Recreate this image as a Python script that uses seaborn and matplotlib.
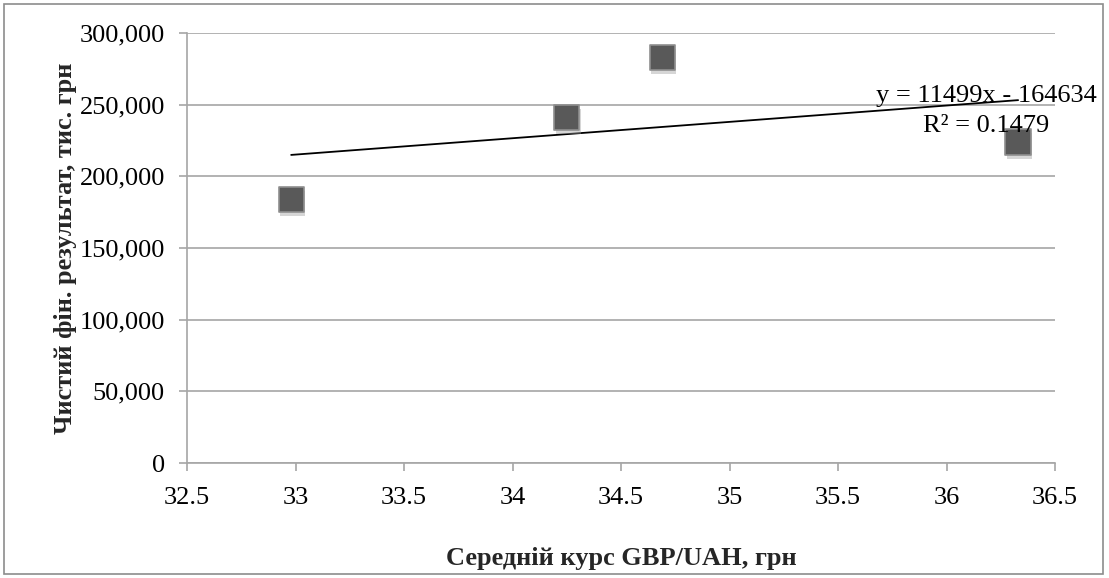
import numpy as np
import pandas as pd
import matplotlib
matplotlib.use("Agg")
import matplotlib.pyplot as plt
import matplotlib.patheffects as pe
from matplotlib.patches import Rectangle
from matplotlib.ticker import FuncFormatter, MultipleLocator
import seaborn as sns

# Data
gbp_rate = [32.98, 34.25, 34.69, 36.33]
net_result = [184000, 241000, 283000, 224000]
eq_text = "y = 11499x - 164634"
r2_text = "R² = 0.1479"
x_label = "Середній курс GBP/UAH, грн"
y_label = "Чистий фін. результат, тис. грн"

df = pd.DataFrame({"x": gbp_rate, "y": net_result})

sns.set_theme(style="white")
plt.rcParams["font.family"] = ["Liberation Serif", "DejaVu Serif"]

W, H = 1109, 578
fig = plt.figure(figsize=(W / 100, H / 100), dpi=100)
ax = fig.add_axes([187 / W, 1 - 463 / H, (1055 - 187) / W, (463 - 33) / H])

grid_c = "#a6a6a6"
ax.set_xlim(32.5, 36.5)
ax.set_ylim(0, 300000)
ax.xaxis.set_major_locator(MultipleLocator(0.5))
ax.yaxis.set_major_locator(MultipleLocator(50000))
ax.yaxis.set_major_formatter(FuncFormatter(lambda v, p: f"{v:,.0f}"))
ax.xaxis.set_major_formatter(FuncFormatter(lambda v, p: f"{v:g}"))
ax.grid(axis="y", color=grid_c, linewidth=1.2)
ax.grid(axis="x", visible=False)
ax.set_axisbelow(True)
for s in ["top", "right"]:
    ax.spines[s].set_visible(False)
for s in ["left", "bottom"]:
    ax.spines[s].set_color(grid_c)
    ax.spines[s].set_linewidth(1.2)
ax.tick_params(axis="both", which="major", direction="out", length=6,
               width=1.2, color=grid_c, labelsize=19, labelcolor="black",
               bottom=True, left=True)
ax.tick_params(axis="y", pad=10)
ax.tick_params(axis="x", pad=11)

# trendline
sns.regplot(data=df, x="x", y="y", ax=ax, scatter=False, ci=None,
            truncate=True, line_kws={"color": "black", "linewidth": 1.3})

# points with soft shadow
sns.scatterplot(data=df, x="x", y="y", ax=ax, marker="s", s=330,
                color="#595959", edgecolor="#8f8f8f", linewidth=1.2,
                zorder=5,
                path_effects=[pe.SimplePatchShadow(offset=(1, -3),
                                                   shadow_rgbFace="#9a9a9a",
                                                   alpha=0.4),
                              pe.Normal()])

ax.text(0.9205, 0.8395, eq_text, transform=ax.transAxes, ha="center",
        va="baseline", fontsize=19, color="black", zorder=6)
ax.text(0.9205, 0.7698, r2_text, transform=ax.transAxes, ha="center",
        va="baseline", fontsize=19, color="black", zorder=6)

ax.set_xlabel(x_label, fontsize=19, fontweight="bold", labelpad=28)
ax.set_ylabel(y_label, fontsize=19, fontweight="bold", labelpad=2)

fig.patches.append(Rectangle((4 / W, 4 / H), (1103 - 4) / W, (574 - 4) / H,
                             transform=fig.transFigure, fill=False,
                             edgecolor="#8c8c8c", linewidth=1.2))

fig.savefig("out.png", dpi=100, facecolor="white")
